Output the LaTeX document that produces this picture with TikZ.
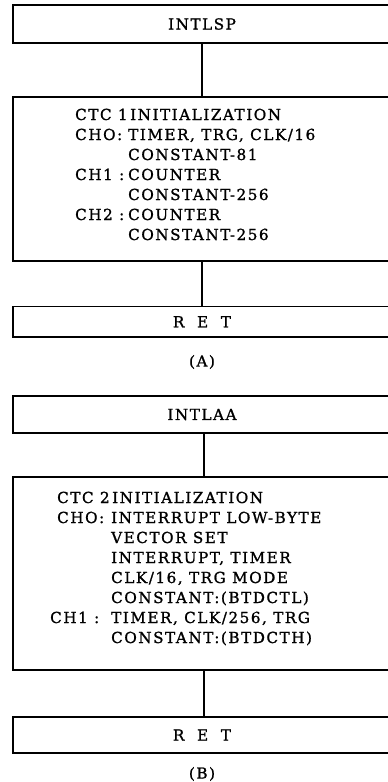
\documentclass[tikz,border=0pt]{standalone}
\usepackage{fontspec}
\setmainfont{DejaVu Serif}[LetterSpace=10, FakeBold=1.2]

\tikzset{
  blk/.style={draw, line width=1.5pt, minimum width=378pt, inner sep=0pt,
    font=\fontsize{15.2}{20}\selectfont},
  txt/.style={inner sep=0pt, anchor=base west, font=\fontsize{15.2}{20}\selectfont},
  link/.style={line width=1.3pt},
}

\begin{document}
\begin{tikzpicture}[x=1pt, y=-1pt]

  \useasboundingbox (0,0) rectangle (388,782);

  % part (A): INTLSP
  \node[blk, minimum height=38pt]   (lsp)   at (202,24)    {INTLSP};
  \node[blk, minimum height=164pt]  (initA) at (202,179)   {};
  \node[blk, minimum height=30.5pt] (retA)  at (202,321.75) {R\ \ E\ \ T};

  \node[txt] (initAtext) at (75,120) {\begin{tabular}[t]{@{}p{53pt}@{}l@{}}
    \multicolumn{2}{@{}l@{}}{CTC 1\,INITIALIZATION}\\
    CHO: & TIMER, TRG, CLK/16\\
         & CONSTANT-81\\
    CH1 : & COUNTER\\
         & CONSTANT-256\\
    CH2 : & COUNTER\\
         & CONSTANT-256
  \end{tabular}};

  \draw[link] (lsp) -- (initA);
  \draw[link] (initA) -- (retA);

  \node[font=\fontsize{15.2}{18}\selectfont] (capA) at (202,362) {(A)};

  % part (B): INTLAA
  \node[blk, minimum height=37pt]  (laa)   at (202,414.5) {INTLAA};
  \node[blk, minimum height=193pt] (initB) at (202,573.5) {};
  \node[blk, minimum height=36pt]  (retB)  at (202,735)   {R\ \ E\ \ T};

  \node[txt] (initBtext) at (57,503) {\begin{tabular}[t]{@{}p{54pt}@{}l@{}}
    \multicolumn{2}{@{}l@{}}{CTC 2\,INITIALIZATION}\\
    CHO: & INTERRUPT LOW-BYTE\\
         & VECTOR SET\\
         & INTERRUPT, TIMER\\
         & CLK/16, TRG MODE\\
         & CONSTANT:(BTDCTL)\\
    \hspace*{-7pt}CH1 : & TIMER, CLK/256, TRG\\
         & CONSTANT:(BTDCTH)
  \end{tabular}};

  \draw[link] ([xshift=2pt]laa.south) -- ([xshift=2pt]initB.north);
  \draw[link] ([xshift=2pt]initB.south) -- ([xshift=2pt]retB.north);

  \node[font=\fontsize{15.2}{18}\selectfont] (capB) at (202,774) {(B)};

\end{tikzpicture}
\end{document}
